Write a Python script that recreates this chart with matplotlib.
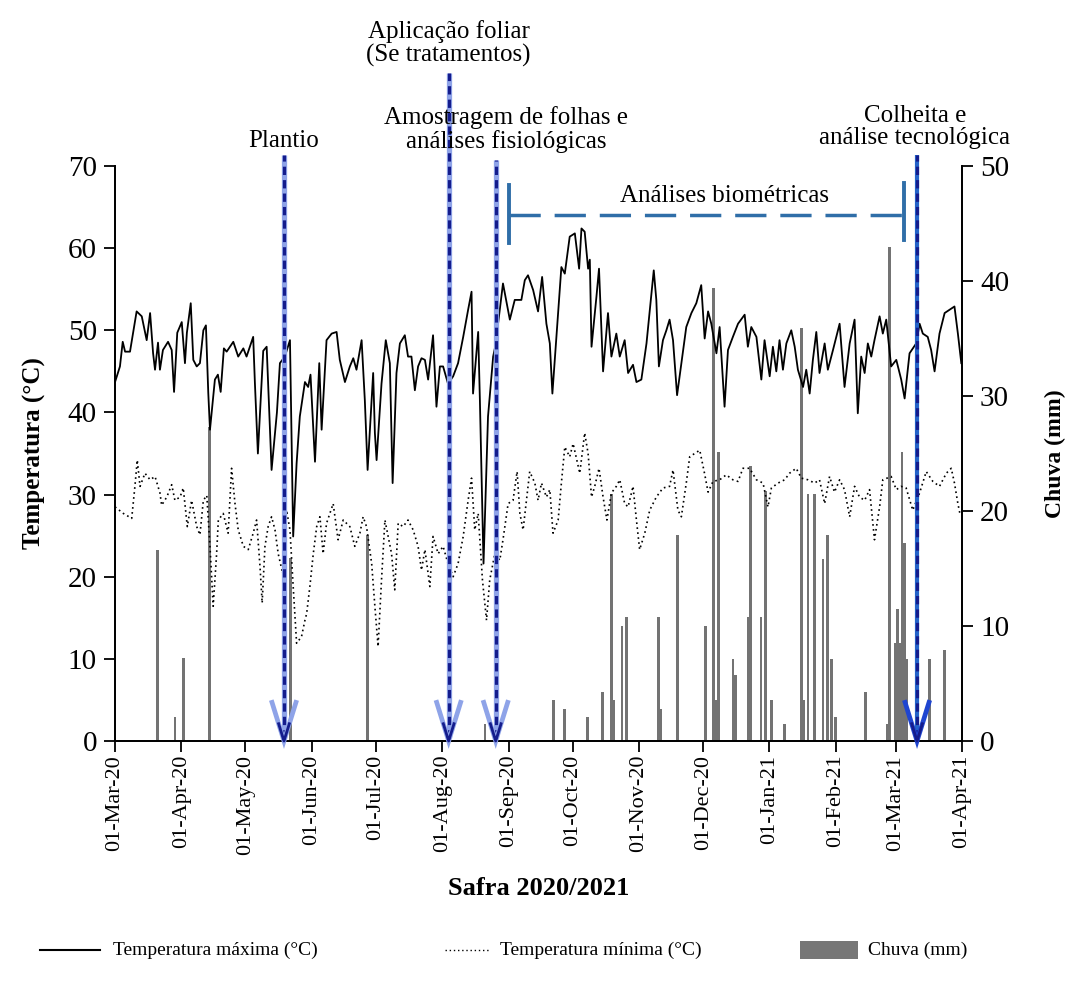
import matplotlib
matplotlib.use("Agg")
import matplotlib.pyplot as plt
import matplotlib.dates as mdates
from matplotlib.lines import Line2D
from matplotlib.patches import Rectangle
import pandas as pd

plt.rcParams['font.family'] = ['Liberation Serif', 'DejaVu Serif']

# ---------------- data (days after 01-Mar-2020, value) ----------------
inicio = pd.Timestamp("2020-03-01")

tmax_pts = [(0, 43.7), (2.3, 45.6), (3.6, 48.6), (4.7, 47.4), (7, 47.4), (10.1, 52.3), (12.5, 51.7),
            (14.8, 48.8), (16.4, 52.1), (17.8, 47.2), (18.7, 45.2), (20.1, 48.5), (21, 45.2), (22.4, 47.6),
            (24.8, 48.6), (26.5, 47.6), (27.6, 42.5), (29.1, 49.7), (31.2, 51.0), (32.7, 46.0), (33.6, 49.7),
            (35.4, 53.3), (36.6, 46.4), (38.2, 45.6), (39.7, 46.0), (41.3, 50.0), (42.5, 50.6), (43.6, 42.4),
            (44.4, 37.9), (46.7, 44.0), (48.1, 44.6), (49.4, 42.5), (50.9, 47.8), (52.2, 47.4), (55.3, 48.6),
            (57.6, 46.8), (60, 47.8), (61.5, 46.8), (64.6, 49.2), (65.4, 43.6), (66.8, 35.0), (69.3, 47.5),
            (70.9, 48.0), (73.2, 33.0), (75.7, 40.0), (77.1, 46.0), (79.4, 46.8), (81.8, 48.8), (83.3, 24.9),
            (84.9, 33.8), (86.4, 39.5), (88.8, 43.7), (90.3, 43.1), (91.4, 44.6), (93.5, 34.0), (95.5, 46.0),
            (96.6, 37.9), (98.9, 48.8), (101.3, 49.6), (103.6, 49.8), (105.1, 46.4), (107.5, 43.7),
            (109.8, 45.6), (111.4, 46.6), (112.9, 45.2), (115.3, 48.8), (116.8, 41.5), (118.1, 33.0),
            (120.7, 44.8), (121.5, 37.5), (122.3, 34.2), (124.6, 43.5), (126.6, 48.8), (128.5, 46.0),
            (129.8, 31.4), (131.6, 44.8), (133.2, 48.4), (135.5, 49.4), (137, 46.8), (138.6, 46.8),
            (140.2, 42.7), (141.7, 45.6), (143.3, 46.6), (144.9, 46.4), (146.4, 44.0), (148.7, 49.4),
            (150.3, 40.7), (151.9, 45.6), (153.4, 45.6), (155.7, 43.5), (158.1, 44.4), (160.4, 46.0),
            (162.8, 49.2), (165.1, 52.5), (166.7, 54.7), (167.4, 42.3), (169.8, 49.8), (170.6, 41.5),
            (172.3, 21.6), (174.4, 39.5), (176.8, 46.8), (178.4, 48.8), (179.1, 50.8), (181.4, 55.7),
            (184.6, 51.3), (186.9, 53.7), (190, 53.7), (191.6, 56.1), (193.1, 56.7), (195.5, 54.9),
            (197.8, 52.3), (199.7, 56.5), (201.7, 50.8), (203.3, 48.4), (204.5, 42.3), (206.4, 49.2),
            (208.7, 57.7), (210.3, 56.9), (212.6, 61.4), (215, 61.8), (217, 57.5), (218.1, 62.4),
            (219.6, 62.0), (221.2, 57.5), (222, 58.6), (222.8, 48.0), (225.1, 54.1), (226.3, 57.5),
            (228.2, 45.0), (230.5, 52.1), (232.1, 46.8), (234.4, 49.6), (236, 46.8), (238.3, 48.8),
            (239.9, 44.8), (242.2, 45.8), (243.8, 43.7), (246.1, 44.0), (248.5, 48.4), (251.9, 57.3),
            (253.1, 53.7), (254.3, 45.6), (256.2, 48.8), (257.8, 50.0), (259.3, 51.3), (260.9, 48.8),
            (262.8, 42.1), (264.8, 46.0), (267.1, 50.4), (269.5, 52.1), (271.8, 53.3), (274.1, 55.5),
            (275.7, 49.0), (277.3, 52.3), (278.8, 50.8), (281.2, 47.2), (282.7, 50.4), (285, 40.7),
            (286.6, 47.6), (288.9, 49.2), (291.3, 50.8), (294.4, 51.9), (295.9, 48.0), (297.5, 50.4),
            (299.9, 49.2), (302.2, 44.0), (303.7, 48.8), (306.1, 44.4), (307.6, 48.0), (309.2, 45.0),
            (310.7, 48.8), (312.3, 45.2), (313.9, 48.4), (316.2, 50.0), (317.8, 48.0), (319.3, 45.2),
            (321.7, 43.1), (323.2, 45.2), (324.8, 42.3), (326.3, 46.4), (327.9, 49.8), (329.4, 44.8),
            (331.8, 48.4), (333.3, 45.2), (335.7, 47.6), (338.8, 50.8), (341.1, 43.1), (343.5, 48.4),
            (345.8, 51.3), (347.3, 39.9), (348.9, 46.8), (350.5, 44.8), (352, 48.4), (353.6, 46.8),
            (355.1, 48.8), (357.5, 51.7), (359, 49.6), (360.6, 51.3), (362.9, 45.6), (365.3, 46.4),
            (367.6, 44.0), (369.2, 41.7), (371.5, 47.2), (374.6, 48.4), (376.2, 50.8), (377.7, 49.6),
            (380, 49.2), (381.6, 47.6), (383.2, 45.0), (385.5, 49.6), (387.9, 52.1), (390.2, 52.5),
            (392.5, 52.9), (394.1, 49.6), (395.7, 46.0)]

tmin_pts = [(0, 28.5), (3.9, 27.7), (7.8, 27.1), (9.3, 31.0), (10.4, 34.2), (11.7, 31.0), (14, 32.6),
            (16.4, 31.8), (18.7, 32.2), (21, 30.2), (21.8, 28.7), (24.2, 29.7), (26.5, 31.2), (28, 29.3),
            (30.4, 29.7), (31.9, 30.8), (33.8, 26.1), (35.8, 29.3), (38.2, 26.1), (39.7, 25.1), (41.3, 29.3),
            (42.9, 29.9), (44.4, 23.7), (45.9, 16.4), (47.5, 22.8), (48.3, 26.9), (50.6, 27.7), (52.9, 25.3),
            (54.5, 33.2), (56.1, 28.9), (57.6, 25.7), (60, 23.7), (62.3, 23.3), (64.6, 25.3), (66.2, 26.9),
            (67.8, 21.2), (68.8, 16.8), (70.1, 23.7), (71.6, 26.1), (73.2, 27.3), (74.8, 25.7), (76.3, 22.8),
            (78.4, 20.4), (80.2, 28.1), (81.8, 25.7), (83.3, 18.8), (84.9, 11.9), (87.2, 12.7), (88.8, 14.7),
            (89.6, 15.5), (91.1, 18.8), (92.7, 22.8), (94.3, 26.1), (95.8, 27.3), (97.3, 22.8), (98.9, 26.5),
            (102, 28.9), (104.3, 24.5), (106.7, 26.9), (109.8, 26.1), (112.1, 23.7), (114.5, 25.3),
            (116, 27.3), (117.6, 26.1), (120, 21.6), (121.5, 16.4), (123, 11.5), (124.6, 19.6), (126.2, 26.9),
            (127.7, 24.9), (129.3, 22.8), (130.8, 18.4), (132.4, 26.5), (134.7, 26.1), (137, 26.9),
            (139.4, 25.7), (141.7, 23.7), (143.3, 20.8), (144.9, 23.3), (147.2, 18.8), (148.7, 24.9),
            (151.1, 22.8), (153.4, 23.7), (155.7, 21.6), (158.1, 20.0), (160.4, 21.6), (162.8, 24.9),
            (165.1, 29.3), (166.7, 32.0), (168.2, 25.7), (169.8, 27.7), (171.8, 19.6), (173.7, 14.7),
            (175.2, 19.6), (177.6, 22.8), (179.9, 22.0), (181.4, 24.5), (183.8, 28.9), (186.1, 29.3),
            (188, 32.8), (189.3, 27.7), (190.8, 25.7), (193.9, 32.8), (196.3, 31.4), (197.8, 29.3),
            (199.4, 31.4), (201.7, 29.7), (203.3, 30.6), (204.8, 25.3), (207.2, 26.9), (208.7, 31.4),
            (210.3, 35.8), (212.6, 34.6), (214.2, 36.2), (217.3, 32.6), (219.6, 37.5), (221.2, 35.0),
            (222.8, 29.7), (224.3, 31.0), (226.3, 33.2), (228.2, 29.7), (230, 26.9), (232.1, 30.2),
            (234.4, 31.0), (236, 31.8), (238.3, 28.9), (239.9, 28.5), (242.2, 31.0), (243.8, 26.9),
            (245.3, 23.3), (247.7, 25.3), (250, 28.1), (253.1, 29.7), (256.2, 30.8), (259.3, 31.0),
            (260.9, 33.0), (263.2, 28.1), (264.8, 27.3), (267.1, 31.4), (268.7, 34.6), (271, 35.0),
            (273.4, 35.4), (275.7, 32.5), (277.3, 30.3), (279.6, 31.6), (282.7, 31.8), (285.8, 32.4),
            (288.9, 31.8), (291.3, 31.6), (293.6, 33.2), (296.7, 33.2), (299.9, 31.8), (303, 31.4),
            (305.3, 28.5), (306.9, 30.8), (310, 31.4), (313.1, 31.8), (315.4, 32.6), (318.5, 33.2),
            (320.9, 32.0), (324, 31.8), (327.1, 31.4), (329.4, 31.8), (331.8, 28.9), (334.1, 32.2),
            (336.4, 30.3), (338.8, 31.8), (341.1, 30.6), (343.5, 27.3), (345.8, 31.0), (348.1, 29.7),
            (350.5, 29.3), (352.8, 30.6), (355.1, 24.5), (357.5, 28.5), (359, 31.8), (362.9, 32.2),
            (365.3, 30.6), (367.6, 31.0), (369.9, 30.8), (373, 28.1), (376.2, 30.2), (379.3, 32.8),
            (382.4, 31.6), (385.5, 31.0), (388.7, 32.6), (391, 33.2), (392.5, 31.4), (394.1, 28.9),
            (395.2, 27.5)]

chuva_dia = [20, 28, 32, 44, 82, 118, 173, 205, 210, 221, 228, 232, 233, 237, 239, 254, 255, 263,
             276, 280, 281, 282, 289, 290, 296, 297, 302, 304, 307, 313, 321, 322, 324, 327, 331,
             333, 335, 337, 351, 361, 362, 365, 366, 367, 368, 369, 370, 381, 388]
chuva_mm = [16.6, 2.1, 7.2, 27.3, 15.9, 17.9, 1.5, 3.6, 2.8, 2.1, 4.3, 21.5, 3.6, 10.0, 10.8, 10.8, 2.8, 17.9,
            10.0, 39.4, 3.6, 25.1, 7.1, 5.7, 10.8, 23.9, 10.8, 21.7, 3.6, 1.5, 35.9, 3.6, 21.5, 21.5, 15.8,
            17.9, 7.1, 2.1, 4.3, 1.5, 43.0, 8.5, 11.5, 8.5, 25.1, 17.2, 7.1, 7.1, 7.9]

# events: (day after 01-Mar-2020, label)
eventos_dia = [79, 156, 178, 375]
eventos_txt = ["Plantio", "Aplicação foliar\n(Se tratamentos)",
               "Amostragem de folhas e\nanálises fisiológicas", "Colheita e\nanálise tecnológica"]
biometria_dias = [184, 369]
biometria_txt = "Análises biométricas"

legend_txt = ["Temperatura máxima (°C)", "Temperatura mínima (°C)", "Chuva (mm)"]


def d(x):
    return inicio + pd.to_timedelta(x, unit="D")


tmax_x = [d(p[0]) for p in tmax_pts]
tmax_y = [p[1] for p in tmax_pts]
tmin_x = [d(p[0]) for p in tmin_pts]
tmin_y = [p[1] for p in tmin_pts]
chuva_x = [d(v) for v in chuva_dia]

# ---------------- figure ----------------
W, H = 1068, 983
fig = plt.figure(figsize=(W / 100, H / 100), dpi=100)
ax = fig.add_axes([0.1077, 0.2462, 0.7930, 0.5849])
ax2 = ax.twinx()
ax.set_zorder(ax2.get_zorder() + 1)
ax.patch.set_visible(False)

ax2.bar(chuva_x, chuva_mm, width=1.3, color="#737373", edgecolor="none", align="center")
ax2.set_ylim(0, 50)
ax2.set_yticks(range(0, 51, 10))

ax.plot(tmax_x, tmax_y, color="black", lw=1.3)
ax.plot(tmin_x, tmin_y, color="black", lw=1.2, linestyle=(0, (1, 2)))

ax.set_xlim(d(0), pd.Timestamp("2021-04-01"))
ax.set_ylim(0, 70)
ax.set_yticks(range(0, 71, 10))
ax.xaxis.set_major_locator(mdates.MonthLocator())
ax.xaxis.set_major_formatter(mdates.DateFormatter("%d-%b-%y"))

for a in (ax, ax2):
    a.spines["top"].set_visible(False)
    for s in ("left", "right", "bottom"):
        a.spines[s].set_linewidth(1.3)
    a.tick_params(axis="both", direction="out", length=8, width=1.3)

ax.tick_params(axis="y", labelsize=21, pad=5)
ax2.tick_params(axis="y", labelsize=21, pad=5)
ax.tick_params(axis="x", labelsize=16, rotation=90, pad=2)

ax.set_ylabel("Temperatura (°C)", fontsize=18, fontweight="bold", labelpad=16)
ax2.set_ylabel("Chuva (mm)", fontsize=17, fontweight="bold", labelpad=26)
ax.set_xlabel("Safra 2020/2021", fontsize=19, fontweight="bold", labelpad=16)

# ---------------- event arrows ----------------
tops = [71.3, 81.3, 70.7, 71.3]
text_y = [73.0, 84.9, 74.5, 74.75]
text_dx = [0, 0, 5, -1]
for i, (dia, txt) in enumerate(zip(eventos_dia, eventos_txt)):
    x = d(dia)
    top = tops[i]
    last = (i == len(eventos_dia) - 1)
    shaft_col = "#2463c8" if last else "#8ea3e8"
    ax.plot([x, x], [0.4, top], color=shaft_col, lw=3.8 if not last else 3.0,
            solid_capstyle="butt", clip_on=False, zorder=6)
    ax.plot([x, x], [0.4, top], color="#141c8c", lw=2.3, dashes=(2.6, 1.6),
            clip_on=False, zorder=7)
    head_col = "#1f45d0" if last else "#8ea3e8"
    xl, xr = d(dia - 5.6), d(dia + 5.6)
    ax.plot([xl, x, xr], [4.7, 0.0, 4.7], color=head_col, lw=3.4,
            solid_joinstyle="miter", clip_on=False, zorder=8)
    ax.plot([d(dia - 2.5), x, d(dia + 2.5)], [2.1, 0.0, 2.1], color="#141c8c", lw=2.0,
            clip_on=False, zorder=9)
    ax.text(d(dia + text_dx[i]), text_y[i], txt, ha="center", va="center", fontsize=18,
            linespacing=1.05, clip_on=False, zorder=10)

# ---------------- biometric bracket ----------------
bx0, bx1 = d(biometria_dias[0]), d(biometria_dias[1])
bcol = "#2f6ea8"
ax.plot([bx0, bx1], [64.0, 64.0], color=bcol, lw=2.5, dashes=(9, 4), clip_on=False, zorder=5)
ax.plot([bx0, bx0], [60.6, 67.7], color=bcol, lw=2.8, clip_on=False, zorder=5)
ax.plot([bx1, bx1], [61.0, 67.9], color=bcol, lw=2.8, clip_on=False, zorder=5)
ax.text(d(285), 66.4, biometria_txt, ha="center", va="center", fontsize=18, zorder=10)

# ---------------- legend (figure pixels) ----------------
ly = 1 - 950 / H
fig.add_artist(Line2D([40 / W, 100 / W], [ly, ly], color="black", lw=1.5))
fig.text(113 / W, ly, legend_txt[0], fontsize=14, va="center", ha="left")
fig.add_artist(Line2D([445 / W, 490 / W], [ly, ly], color="black", lw=1.0, linestyle=(0, (1, 2))))
fig.text(500 / W, ly, legend_txt[1], fontsize=14, va="center", ha="left")
fig.add_artist(Rectangle((800 / W, 1 - 959 / H), 58 / W, 18 / H, facecolor="#777777",
                         edgecolor="none", transform=fig.transFigure))
fig.text(868 / W, ly, legend_txt[2], fontsize=14, va="center", ha="left")

fig.savefig("out.png", dpi=100)
